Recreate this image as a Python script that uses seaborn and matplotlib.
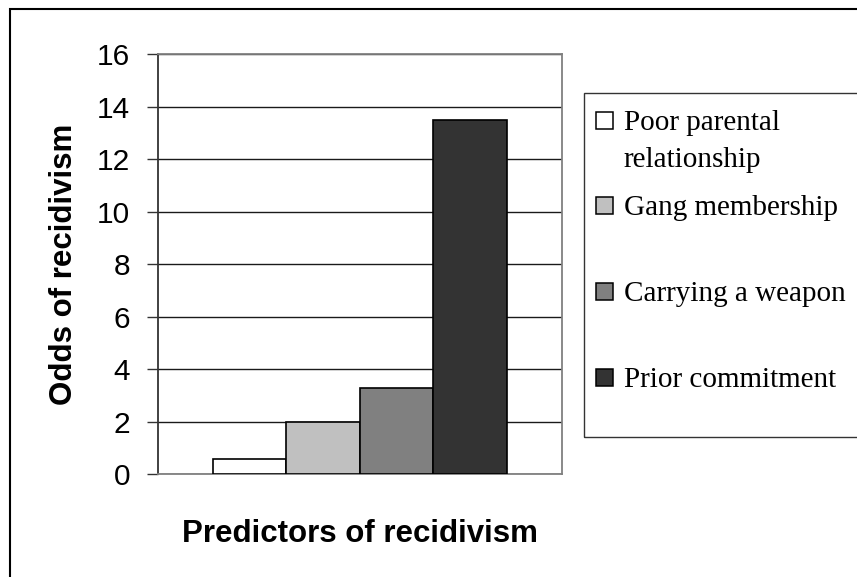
import matplotlib
matplotlib.use("Agg")
import matplotlib.pyplot as plt
import seaborn as sns
import pandas as pd
from matplotlib.patches import Rectangle

predictors = ["Poor parental\nrelationship", "Gang membership", "Carrying a weapon", "Prior commitment"]
odds = [0.6, 2.0, 3.3, 13.5]
colors = ["#FFFFFF", "#C0C0C0", "#808080", "#333333"]
y_ticks = [0, 2, 4, 6, 8, 10, 12, 14, 16]
x_label = "Predictors of recidivism"
y_label = "Odds of recidivism"

sns.set_theme(style="white")
plt.rcParams["font.family"] = ["Liberation Sans", "DejaVu Sans"]

W, H = 857, 577
fig = plt.figure(figsize=(W / 100, H / 100), dpi=100)
ax = fig.add_axes([157.7 / W, 102.7 / H, 404 / W, 420 / H])

df = pd.DataFrame({"group": [""] * len(odds), "predictor": predictors, "odds": odds})
sns.barplot(data=df, x="group", y="odds", hue="predictor", hue_order=predictors,
            palette=colors, width=0.728, gap=0, dodge=True, saturation=1,
            edgecolor="black", linewidth=1.2, legend=False, ax=ax, zorder=3)

ax.set_xlim(-0.5, 0.5)
ax.set_ylim(0, 16)
ax.set_yticks(y_ticks)
ax.set_yticklabels([str(t) for t in y_ticks])
ax.set_xticks([])
ax.set_axisbelow(True)
ax.yaxis.grid(True, color="#1a1a1a", linewidth=1.0)
ax.xaxis.grid(False)

for side in ["top", "right", "bottom"]:
    ax.spines[side].set_color("#808080")
    ax.spines[side].set_linewidth(1.3)
ax.spines["left"].set_color("#333333")
ax.spines["left"].set_linewidth(1.3)

ax.tick_params(axis="y", left=True, length=8, width=1.0, color="#333333",
               pad=12, labelsize=21.5, labelcolor="black")

ax.set_ylabel(y_label, fontsize=22.5, fontweight="bold", color="black", va="baseline")
ax.yaxis.set_label_coords(-0.2129, 0.5)
ax.set_xlabel(x_label, fontsize=22.5, fontweight="bold", color="black", va="baseline")
ax.xaxis.set_label_coords(0.5007, -0.1605)

# Outer chart frame
fig.add_artist(Rectangle((10 / W, -0.2), 2, (H - 9) / H + 0.2, transform=fig.transFigure,
                         fill=False, edgecolor="black", linewidth=1.5, clip_on=False))

# Legend box
leg_top, leg_bot, leg_left = 92.5, 436.7, 584
fig.add_artist(Rectangle((leg_left / W, (H - leg_bot) / H), 1.0, (leg_bot - leg_top) / H,
                         transform=fig.transFigure, fill=False, edgecolor="#333333",
                         linewidth=1.0, clip_on=False))

centers = [120, 205, 291, 377]
sq = 17
for name, col, cy in zip(predictors, colors, centers):
    fig.add_artist(Rectangle((596 / W, (H - cy - sq / 2) / H), sq / W, sq / H,
                             transform=fig.transFigure, facecolor=col,
                             edgecolor="black", linewidth=1.1))
    lines = name.split("\n")
    for k, line in enumerate(lines):
        fig.text(623.5 / W, (H - (cy + 10) - 37 * k) / H, line,
                 fontsize=21, family=["Liberation Serif", "DejaVu Serif"],
                 ha="left", va="baseline", color="black")

fig.savefig("out.png", dpi=100)
